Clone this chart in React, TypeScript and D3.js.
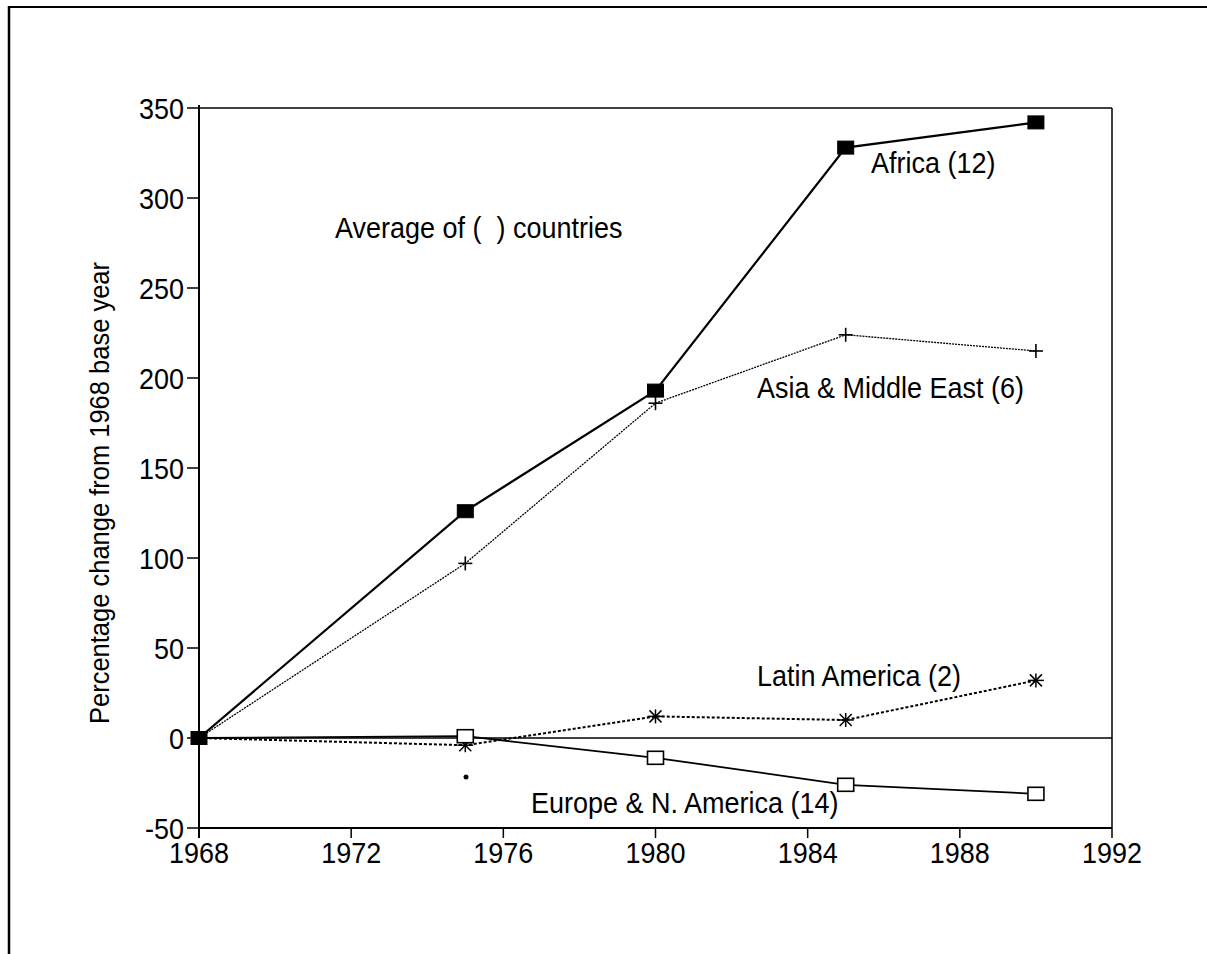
import React, { useEffect } from "react";
import * as d3 from "d3";

const years = [1968, 1975, 1980, 1985, 1990];
const africa = [0, 126, 193, 328, 342];
const asia = [0, 97, 186, 224, 215];
const latin = [0, -4, 12, 10, 32];
const europe = [0, 1, -11, -26, -31];
const xTicks = [1968, 1972, 1976, 1980, 1984, 1988, 1992];
const yTicks = [-50, 0, 50, 100, 150, 200, 250, 300, 350];

const W = 1207;
const H = 954;
const FONT = "'Liberation Sans', Arial, Helvetica, sans-serif";
const STRETCH = 1.12;

function T(props: {
  x: number;
  y: number;
  anchor?: string;
  size?: number;
  children: React.ReactNode;
}) {
  const { x, y, anchor = "start", size = 27, children } = props;
  return (
    <text
      transform={`translate(${x},${y}) scale(1,${STRETCH})`}
      textAnchor={anchor}
      fontFamily={FONT}
      fontSize={size}
      fill="#000"
      style={{ whiteSpace: "pre" }}
    >
      {children}
    </text>
  );
}

export default function App() {
  useEffect(() => {
    document.body.style.overflow = "hidden";
    document.documentElement.style.overflow = "hidden";
  }, []);

  const x = d3.scaleLinear().domain([1968, 1992]).range([199, 1112]);
  const y = d3.scaleLinear().domain([-50, 350]).range([828, 108]);
  const line = d3
    .line<number>()
    .x((_, i) => x(years[i]))
    .y((d) => y(d));

  const sq = (cx: number, cy: number, filled: boolean, key: string) => (
    <rect
      key={key}
      x={cx - 8}
      y={cy - 6.5}
      width={16}
      height={13}
      fill={filled ? "#000" : "#fff"}
      stroke="#000"
      strokeWidth={filled ? 1 : 1.6}
    />
  );
  const plus = (cx: number, cy: number, key: string) => (
    <g key={key} stroke="#000" strokeWidth={1.6}>
      <line x1={cx - 7} x2={cx + 7} y1={cy} y2={cy} />
      <line x1={cx} x2={cx} y1={cy - 7} y2={cy + 7} />
    </g>
  );
  const star = (cx: number, cy: number, key: string) => (
    <g key={key} stroke="#000" strokeWidth={1.5}>
      <line x1={cx - 8} x2={cx + 8} y1={cy} y2={cy} />
      <line x1={cx} x2={cx} y1={cy - 7} y2={cy + 7} />
      <line x1={cx - 6} x2={cx + 6} y1={cy - 6} y2={cy + 6} />
      <line x1={cx - 6} x2={cx + 6} y1={cy + 6} y2={cy - 6} />
    </g>
  );

  return (
    <svg
      width={W}
      height={H}
      style={{ position: "absolute", left: 0, top: 0, display: "block", background: "#fff" }}
    >
      <rect x={0} y={0} width={W} height={H} fill="#fff" />
      {/* outer frame */}
      <line x1={9} x2={9} y1={6} y2={H} stroke="#000" strokeWidth={2.5} />
      <line x1={8} x2={W} y1={7} y2={7} stroke="#000" strokeWidth={2} />

      {/* plot box */}
      <line x1={x(1968)} x2={x(1992)} y1={y(350)} y2={y(350)} stroke="#000" strokeWidth={1.5} />
      <line x1={x(1992)} x2={x(1992)} y1={y(350)} y2={y(-50)} stroke="#000" strokeWidth={1.5} />
      <line x1={x(1968)} x2={x(1992)} y1={y(-50)} y2={y(-50)} stroke="#000" strokeWidth={2} />
      <line x1={x(1968)} x2={x(1968)} y1={y(350) - 3} y2={y(-50) + 10} stroke="#000" strokeWidth={2} />
      {/* zero line */}
      <line x1={x(1968)} x2={x(1992)} y1={y(0)} y2={y(0)} stroke="#000" strokeWidth={1.3} />

      {/* y ticks */}
      {yTicks.map((t) => (
        <g key={"y" + t}>
          <line x1={x(1968) - 12} x2={x(1968)} y1={y(t)} y2={y(t)} stroke="#000" strokeWidth={1.5} />
          <T x={x(1968) - 15} y={y(t) + 11} anchor="end">
            {String(t)}
          </T>
        </g>
      ))}
      {/* x ticks */}
      {xTicks.map((t) => (
        <g key={"x" + t}>
          <line x1={x(t)} x2={x(t)} y1={y(-50)} y2={y(-50) + 10} stroke="#000" strokeWidth={1.5} />
          <T x={x(t)} y={863} anchor="middle">
            {String(t)}
          </T>
        </g>
      ))}

      {/* y label */}
      <text
        transform={`translate(109, ${(y(-50) + y(350)) / 2 + 25}) rotate(-90) scale(1,${STRETCH})`}
        textAnchor="middle"
        fontFamily={FONT}
        fontSize={25.5}
        fill="#000"
      >
        Percentage change from 1968 base year
      </text>

      {/* series lines */}
      <path d={line(africa) || ""} fill="none" stroke="#000" strokeWidth={2.2} />
      <path d={line(asia) || ""} fill="none" stroke="#000" strokeWidth={1.3} strokeDasharray="2,1" />
      <path d={line(latin) || ""} fill="none" stroke="#000" strokeWidth={2} strokeDasharray="3,2" />
      <path d={line(europe) || ""} fill="none" stroke="#000" strokeWidth={1.8} />

      {/* markers */}
      {asia.map((v, i) => (i > 0 ? plus(x(years[i]), y(v), "p" + i) : null))}
      {latin.map((v, i) => (i > 0 ? star(x(years[i]), y(v), "s" + i) : null))}
      {europe.map((v, i) => (i > 0 ? sq(x(years[i]), y(v), false, "e" + i) : null))}
      {africa.map((v, i) => sq(x(years[i]), y(v), true, "a" + i))}

      {/* annotations */}
      <T x={335} y={238}>{"Average of (  ) countries"}</T>
      <T x={871} y={173}>{"Africa (12)"}</T>
      <T x={757} y={398}>{"Asia & Middle East (6)"}</T>
      <T x={757} y={686}>{"Latin America (2)"}</T>
      <T x={531} y={813}>{"Europe & N. America (14)"}</T>
      <circle cx={466} cy={777} r={2.5} fill="#000" />
    </svg>
  );
}
